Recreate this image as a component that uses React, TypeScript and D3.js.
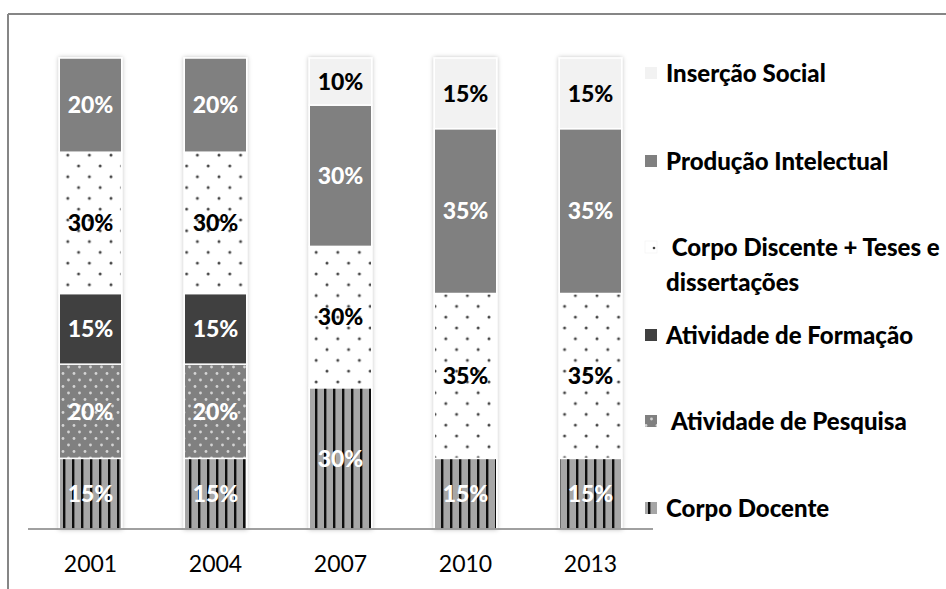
import React from 'react';
import * as d3 from 'd3';

const years = ['2001', '2004', '2007', '2010', '2013'];

// bottom to top, percent values per year
const corpoDocente = [15, 15, 30, 15, 15];
const atividadePesquisa = [20, 20, 0, 0, 0];
const atividadeFormacao = [15, 15, 0, 0, 0];
const corpoDiscente = [30, 30, 30, 35, 35];
const producaoIntelectual = [20, 20, 30, 35, 35];
const insercaoSocial = [0, 0, 10, 15, 15];

const seriesKeys = ['docente', 'pesquisa', 'formacao', 'discente', 'producao', 'insercao'];
const seriesValues: Record<string, number[]> = {
  docente: corpoDocente,
  pesquisa: atividadePesquisa,
  formacao: atividadeFormacao,
  discente: corpoDiscente,
  producao: producaoIntelectual,
  insercao: insercaoSocial,
};

const W = 946;
const H = 589;
const FONT = 'Lato, "Open Sans", sans-serif';

const fills: Record<string, string> = {
  docente: 'url(#pat-stripes)',
  pesquisa: 'url(#pat-pesquisa)',
  formacao: '#404040',
  discente: 'url(#pat-discente)',
  producao: '#808080',
  insercao: '#f2f2f2',
};
const labelColor: Record<string, string> = {
  docente: '#fff',
  pesquisa: '#fff',
  formacao: '#fff',
  discente: '#000',
  producao: '#fff',
  insercao: '#000',
};

// legend, top to bottom
const legendItems = [
  { key: 'insercao', lines: ['Inserção Social'], y: 73 },
  { key: 'producao', lines: ['Produção Intelectual'], y: 161 },
  { key: 'discente', lines: [' Corpo Discente + Teses e', 'dissertações'], y: 247 },
  { key: 'formacao', lines: ['Atividade de Formação'], y: 335 },
  { key: 'pesquisa', lines: [' Atividade de Pesquisa'], y: 421 },
  { key: 'docente', lines: ['Corpo Docente'], y: 508 },
];

export default function App() {
  const x = d3.scaleBand<string>().domain(years).range([28, 653]).paddingInner(0.5).paddingOuter(0.25);
  const y = d3.scaleLinear().domain([0, 100]).range([529, 58]);

  const table = years.map((yr, i) => {
    const row: Record<string, any> = { year: yr };
    seriesKeys.forEach((k) => (row[k] = seriesValues[k][i]));
    return row;
  });
  const stacked = d3.stack<any>().keys(seriesKeys)(table);

  return (
    <svg width={W} height={H} style={{ position: 'absolute', left: 0, top: 0, background: '#fff' }}>
      <defs>
        <pattern id="pat-stripes" patternUnits="userSpaceOnUse" width={9} height={10}>
          <rect width={9} height={10} fill="#a6a6a6" />
          <rect x={0} width={2.4} height={10} fill="#111" />
        </pattern>
        <pattern id="pat-pesquisa" patternUnits="userSpaceOnUse" width={11} height={13}>
          <rect width={11} height={13} fill="#808080" />
          <circle cx={2.5} cy={3} r={1.4} fill="#d4d4d4" />
          <circle cx={8} cy={9.5} r={1.4} fill="#d4d4d4" />
        </pattern>
        <pattern id="pat-discente" patternUnits="userSpaceOnUse" width={21.6} height={21.6}>
          <rect width={21.6} height={21.6} fill="#fff" />
          <circle cx={3} cy={4} r={1.5} fill="#444" />
          <circle cx={13.8} cy={14.8} r={1.5} fill="#444" />
        </pattern>
        <filter id="shadow" x="-20%" y="-5%" width="140%" height="110%">
          <feDropShadow dx={0} dy={0} stdDeviation={2} floodColor="#000" floodOpacity={0.25} />
        </filter>
      </defs>

      {/* outer frame (only top and left visible) */}
      <line x1={8} x2={W} y1={14} y2={14} stroke="#868686" strokeWidth={2} />
      <line x1={8} x2={8} y1={14} y2={H} stroke="#868686" strokeWidth={2} />

      {/* bars */}
      <g filter="url(#shadow)">
        {years.map((yr, i) => (
          <g key={yr}>
            {stacked.map((s) => {
              const d = s[i];
              if (d[1] - d[0] <= 0) return null;
              return (
                <rect
                  key={s.key}
                  x={x(yr)!}
                  y={y(d[1])}
                  width={x.bandwidth()}
                  height={y(d[0]) - y(d[1])}
                  fill={fills[s.key]}
                  stroke="#fff"
                  strokeWidth={1.5}
                />
              );
            })}
          </g>
        ))}
      </g>

      {/* segment labels */}
      {years.map((yr, i) =>
        stacked.map((s) => {
          const d = s[i];
          const v = d[1] - d[0];
          if (v <= 0) return null;
          return (
            <text
              key={yr + s.key}
              x={x(yr)! + x.bandwidth() / 2}
              y={(y(d[0]) + y(d[1])) / 2}
              dy="0.36em"
              textAnchor="middle"
              fontFamily={FONT}
              fontWeight={900}
              fontSize={23}
              fill={labelColor[s.key]}
            >
              {v}%
            </text>
          );
        })
      )}

      {/* category axis */}
      <line x1={28} x2={653} y1={529} y2={529} stroke="#808080" strokeWidth={1.5} />
      {years.map((yr) => (
        <text
          key={yr}
          x={x(yr)! + x.bandwidth() / 2}
          y={572}
          textAnchor="middle"
          fontFamily={FONT}
          fontSize={23}
          fill="#000"
        >
          {yr}
        </text>
      ))}

      {/* legend */}
      {legendItems.map((it) => (
        <g key={it.key}>
          {it.key === 'discente' ? (
            <g>
              <rect x={645} y={it.y - 6} width={12} height={12} fill="#fff" stroke="#eee" strokeWidth={0.5} />
              <circle cx={654} cy={it.y + 1} r={1.3} fill="#444" />
            </g>
          ) : (
            <rect x={645} y={it.y - 6} width={12} height={12} fill={fills[it.key]} />
          )}
          {it.lines.map((ln, j) => (
            <text
              key={j}
              x={666}
              y={it.y + 9 + j * 35}
              fontFamily={FONT}
              fontWeight={900}
              fontSize={24}
              fill="#000"
              style={{ whiteSpace: 'pre' }}
            >
              {ln}
            </text>
          ))}
        </g>
      ))}
    </svg>
  );
}
